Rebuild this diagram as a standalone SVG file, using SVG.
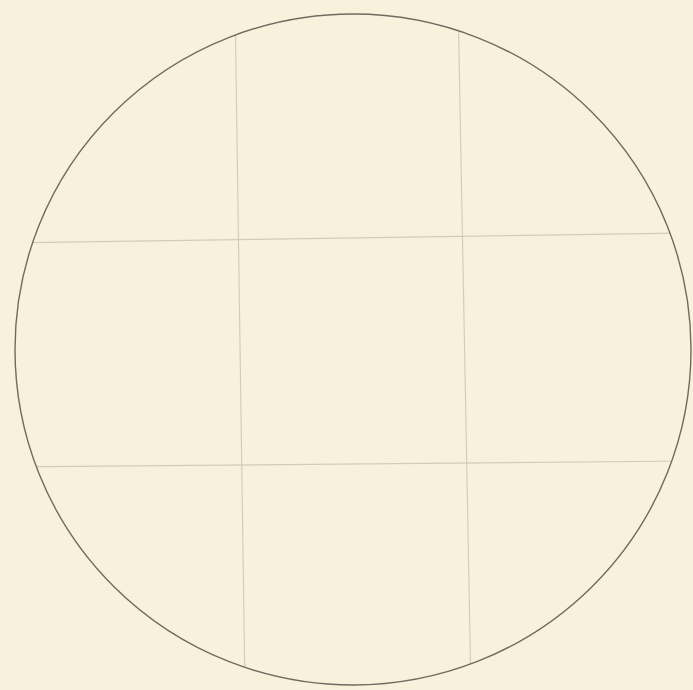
<svg xmlns="http://www.w3.org/2000/svg" width="693" height="690" viewBox="0 0 693 690">
<style>
.grid{stroke:#d3cdb8;stroke-width:1.2;fill:none}
.rim{stroke:#6f6b60;stroke-width:1.4;fill:none}
</style>
<defs>
<clipPath id="c"><ellipse cx="353" cy="349.5" rx="338" ry="335.5"/></clipPath>
</defs>
<rect width="693" height="690" fill="#f8f2dd"/>
<g id="grid" clip-path="url(#c)">
<line class="grid" x1="235" y1="0" x2="245" y2="690"/>
<line class="grid" x1="458" y1="0" x2="471" y2="690"/>
<line class="grid" x1="0" y1="243" x2="693" y2="233"/>
<line class="grid" x1="0" y1="467" x2="693" y2="461"/>
</g>
<g id="circle">
<ellipse class="rim" cx="353" cy="349.5" rx="338" ry="335.5"/>
</g>
</svg>
